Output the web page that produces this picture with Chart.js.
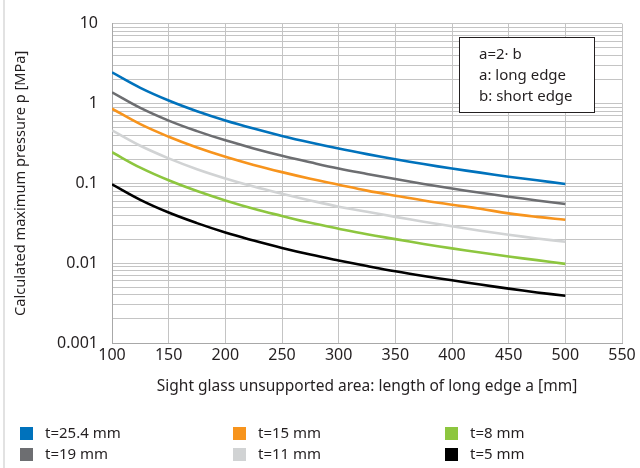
<!DOCTYPE html>
<html>
<head>
<meta charset="utf-8">
<style>
  html, body { margin: 0; padding: 0; background: #fff; }
  #wrap { width: 640px; height: 468px; position: relative; }
</style>
<script src="https://cdn.jsdelivr.net/npm/chart.js@4/dist/chart.umd.min.js"></script>
</head>
<body>
<div id="wrap"><canvas id="c" width="640" height="468"></canvas></div>
<script>
// ---- data ----
const xValues = [100, 125, 150, 175, 200, 225, 250, 275, 300, 325, 350, 375, 400, 425, 450, 475, 500];
const t254 = [2.45, 1.57, 1.09, 0.80, 0.612, 0.484, 0.392, 0.324, 0.272, 0.232, 0.200, 0.174, 0.153, 0.136, 0.121, 0.109, 0.098];
const t19  = [1.38, 0.88, 0.61, 0.45, 0.345, 0.273, 0.221, 0.183, 0.153, 0.131, 0.113, 0.098, 0.086, 0.076, 0.068, 0.061, 0.055];
const t15  = [0.86, 0.55, 0.383, 0.281, 0.215, 0.170, 0.138, 0.114, 0.096, 0.081, 0.070, 0.061, 0.054, 0.048, 0.042, 0.038, 0.035];
const t11  = [0.46, 0.295, 0.205, 0.150, 0.115, 0.091, 0.074, 0.061, 0.051, 0.044, 0.038, 0.033, 0.029, 0.0255, 0.0227, 0.0204, 0.0185];
const t8   = [0.245, 0.157, 0.109, 0.080, 0.061, 0.048, 0.039, 0.032, 0.027, 0.023, 0.020, 0.0174, 0.0153, 0.0136, 0.0121, 0.0109, 0.0098];
const t5   = [0.097, 0.062, 0.043, 0.0317, 0.0242, 0.0192, 0.0155, 0.0128, 0.0108, 0.0092, 0.0079, 0.0069, 0.0061, 0.0054, 0.0048, 0.0043, 0.0039];
const seriesLabels = ['t=25.4 mm', 't=19 mm', 't=15 mm', 't=11 mm', 't=8 mm', 't=5 mm'];
const xTicks = [100, 150, 200, 250, 300, 350, 400, 450, 500, 550];
const yMajorTicks = [0.001, 0.01, 0.1, 1, 10];
const yMajorLabels = ['0.001', '0.01', '0.1', '1', '10'];
const yMinorMultipliers = [2, 3, 4, 5, 6, 7, 8, 9];
const noteLines = ['a=2\u00B7 b', 'a: long edge', 'b: short edge'];
const xTitle = 'Sight glass unsupported area: length of long edge a [mm]';
const yTitle = 'Calculated maximum pressure p [MPa]';

// ---- styles ----
const colors = ['#0072bc', '#6d6e71', '#f7941d', '#d1d3d4', '#8dc63f', '#000000'];
const FONT = '"Noto Sans", sans-serif';
const TEXT = '#231f20';
const GRID = '#c4c4c4';

const seriesValues = [t254, t19, t15, t11, t8, t5];
const datasets = seriesValues.map((vals, i) => ({
  label: seriesLabels[i],
  data: xValues.map((x, j) => ({ x: x, y: vals[j] })),
  borderColor: colors[i],
  backgroundColor: colors[i],
  borderWidth: 2.6,
  pointRadius: 0,
  tension: 0.4,
  fill: false
}));

// y ticks: majors + minors
const yAllTicks = [];
for (let d = 0; d < yMajorTicks.length; d++) {
  yAllTicks.push(yMajorTicks[d]);
  if (d < yMajorTicks.length - 1) {
    yMinorMultipliers.forEach(m => yAllTicks.push(+(yMajorTicks[d] * m).toPrecision(6)));
  }
}

const decorPlugin = {
  id: 'decor',
  beforeDraw(chart) {
    const ctx = chart.ctx;
    ctx.save();
    ctx.fillStyle = '#ffffff';
    ctx.fillRect(0, 0, chart.width, chart.height);
    ctx.strokeStyle = '#e2e2e2';
    ctx.lineWidth = 2;
    ctx.beginPath();
    ctx.moveTo(4, 0);
    ctx.lineTo(4, chart.height);
    ctx.stroke();
    ctx.restore();
  },
  afterDraw(chart) {
    const ctx = chart.ctx;
    ctx.save();
    // note box
    ctx.fillStyle = '#ffffff';
    ctx.fillRect(459, 37, 135, 75);
    ctx.strokeStyle = '#231f20';
    ctx.lineWidth = 1;
    ctx.strokeRect(459.5, 37.5, 135, 75);
    ctx.fillStyle = TEXT;
    ctx.font = '15px ' + FONT;
    ctx.textBaseline = 'middle';
    ctx.textAlign = 'left';
    noteLines.forEach((t, i) => ctx.fillText(t, 479, 55 + i * 21));
    // legend
    const colX = [20, 233, 445];
    const rowY = [434, 455];
    chart.data.datasets.forEach((ds, i) => {
      const cx = colX[Math.floor(i / 2)];
      const cy = rowY[i % 2];
      ctx.fillStyle = ds.borderColor;
      ctx.fillRect(cx, cy - 7, 13, 13);
      ctx.fillStyle = TEXT;
      ctx.fillText(ds.label, cx + 25, cy);
    });
    ctx.restore();
  }
};

new Chart(document.getElementById('c'), {
  type: 'line',
  data: { datasets },
  options: {
    responsive: false,
    animation: false,
    layout: { padding: { left: 0, right: 18, top: 16, bottom: 65 } },
    plugins: { legend: { display: false }, tooltip: { enabled: false } },
    scales: {
      x: {
        type: 'linear',
        min: 100, max: 550,
        afterBuildTicks: s => { s.ticks = xTicks.map(v => ({ value: v })); },
        afterFit: s => { s.height = 60; },
        grid: { color: GRID, lineWidth: 1, drawTicks: false },
        border: { color: '#a8a8a8', width: 1 },
        ticks: { color: TEXT, font: { family: FONT, size: 16 }, padding: 3, maxRotation: 0, autoSkip: false },
        title: { display: true, text: xTitle, color: TEXT, font: { family: FONT, size: 15.5 }, padding: { top: 0, bottom: 7 } }
      },
      y: {
        type: 'logarithmic',
        min: 0.001, max: 10,
        afterBuildTicks: s => { s.ticks = yAllTicks.map(v => ({ value: v, major: yMajorTicks.includes(v) })); },
        afterFit: s => { s.width = 112; },
        grid: { color: GRID, lineWidth: 1, drawTicks: false },
        border: { color: '#a8a8a8', width: 1 },
        ticks: {
          color: TEXT, font: { family: FONT, size: 16 }, padding: 14, autoSkip: false,
          callback: v => { const k = yMajorTicks.indexOf(v); return k >= 0 ? yMajorLabels[k] : ''; }
        },
        title: { display: true, text: yTitle, color: TEXT, font: { family: FONT, size: 14.6 }, padding: { top: 12, bottom: 0 } }
      }
    }
  },
  plugins: [decorPlugin]
});
</script>
</body>
</html>
